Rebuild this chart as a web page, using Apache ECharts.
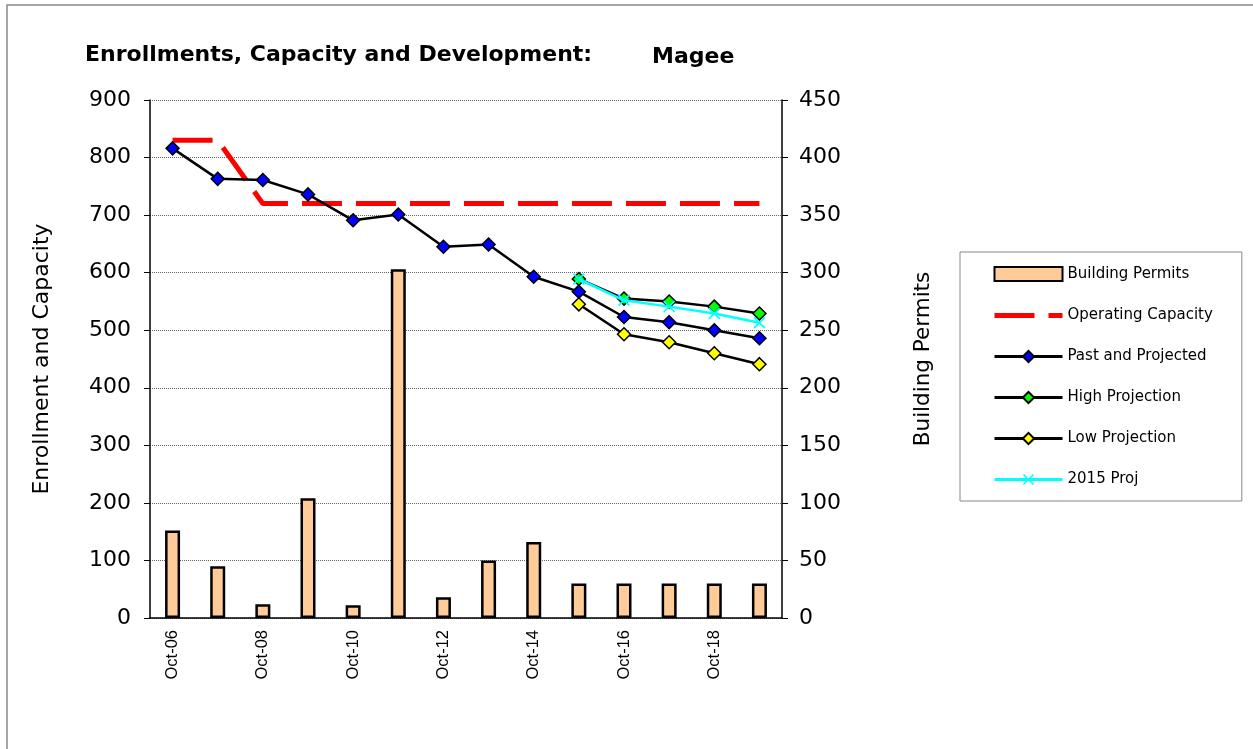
<!DOCTYPE html>
<html>
<head>
<meta charset="utf-8">
<script src="https://cdn.jsdelivr.net/npm/echarts@6/dist/echarts.min.js"></script>
<style>
  html, body { margin: 0; padding: 0; background: #fff; }
  #chart { width: 1253px; height: 749px; }
</style>
</head>
<body>
<div id="chart"></div>
<script>
const categories = ['Oct-06', 'Oct-07', 'Oct-08', 'Oct-09', 'Oct-10', 'Oct-11', 'Oct-12',
  'Oct-13', 'Oct-14', 'Oct-15', 'Oct-16', 'Oct-17', 'Oct-18', 'Oct-19']
const buildingPermits = [76, 45, 12, 104, 11, 303, 18, 50, 66, 30, 30, 30, 30, 30]
const operatingCapacity = [830, 830, 720, 720, 720, 720, 720, 720, 720, 720, 720, 720, 720, 720]
const pastProjected = [816, 763, 761, 736, 691, 701, 645, 649, 593, 567, 523, 514, 500, 486]
const highProjection = ['-', '-', '-', '-', '-', '-', '-', '-', '-', 589, 555, 550, 541, 529]
const lowProjection = ['-', '-', '-', '-', '-', '-', '-', '-', '-', 545, 493, 479, 460, 441]
const proj2015 = ['-', '-', '-', '-', '-', '-', '-', '-', '-', 589, 552, 541, 529, 513]

const font = '"DejaVu Sans", sans-serif'
const arial = 'Arial, "Liberation Sans", sans-serif'
const xMark = 'path://M0,1 L1,0 L5,4 L9,0 L10,1 L6,5 L10,9 L9,10 L5,6 L1,10 L0,9 L4,5 Z'

const chart = echarts.init(document.getElementById('chart'))

function projLine(name, data, color) {
  return {
    name,
    type: 'line',
    data,
    symbol: 'diamond',
    symbolSize: 13,
    lineStyle: { color: '#000', width: 2.5 },
    itemStyle: { color, borderColor: '#000', borderWidth: 1.5 },
    z: 5
  }
}

chart.setOption({
  animation: false,
  textStyle: { fontFamily: font },
  title: [{
    text: 'Enrollments, Capacity and Development:',
    left: 80,
    top: 39,
    textStyle: { fontSize: 22, fontWeight: 'bold', color: '#000', fontFamily: font }
  }, {
    text: 'Magee',
    left: 647,
    top: 41,
    textStyle: { fontSize: 22, fontWeight: 'bold', color: '#000', fontFamily: font }
  }],
  graphic: [{
    type: 'rect',
    shape: { x: 7, y: 5, width: 1260, height: 800 },
    style: { fill: 'none', stroke: '#888', lineWidth: 1.5 },
    silent: true
  }],
  legend: {
    orient: 'vertical',
    left: 960,
    top: 252,
    padding: [14, 29, 14, 32],
    itemGap: 26,
    itemWidth: 68,
    itemHeight: 14,
    borderColor: '#888',
    borderWidth: 1,
    textStyle: { fontSize: 15, color: '#000', fontFamily: font },
    data: [
      { name: 'Building Permits', icon: 'rect' },
      { name: 'Operating Capacity', itemStyle: { opacity: 0 }, lineStyle: { width: 5, type: [40, 14] } },
      { name: 'Past and Projected', lineStyle: { width: 3 } },
      { name: 'High Projection', lineStyle: { width: 3 } },
      { name: 'Low Projection', lineStyle: { width: 3 } },
      { name: '2015 Proj', lineStyle: { width: 3 } }
    ]
  },
  grid: { left: 150, right: 471, top: 100, bottom: 131 },
  xAxis: {
    type: 'category',
    data: categories,
    axisLine: { lineStyle: { color: '#000', width: 1.5 } },
    axisTick: { lineStyle: { color: '#000' }, length: 7 },
    axisLabel: { rotate: 90, interval: 1, fontSize: 16.5, color: '#000', margin: 12, fontFamily: arial }
  },
  yAxis: [{
    type: 'value',
    min: 0,
    max: 900,
    interval: 100,
    name: 'Enrollment and Capacity',
    nameLocation: 'middle',
    nameGap: 97,
    nameTextStyle: { fontSize: 22, color: '#000' },
    axisLine: { show: true, lineStyle: { color: '#000', width: 1.5 } },
    axisTick: { show: true, lineStyle: { color: '#000' }, length: 6 },
    axisLabel: { fontSize: 22, color: '#000', margin: 19 },
    splitLine: { lineStyle: { color: '#666', type: 'dotted', width: 1 } }
  }, {
    type: 'value',
    min: 0,
    max: 450,
    interval: 50,
    position: 'right',
    name: 'Building Permits',
    nameLocation: 'middle',
    nameGap: 130,
    nameTextStyle: { fontSize: 21.5, color: '#000' },
    axisLine: { show: true, lineStyle: { color: '#000', width: 1.5 } },
    axisTick: { show: true, lineStyle: { color: '#000' }, length: 6 },
    axisLabel: { fontSize: 22, color: '#000', margin: 17 },
    splitLine: { show: false }
  }],
  series: [{
    name: 'Building Permits',
    type: 'bar',
    yAxisIndex: 1,
    data: buildingPermits,
    barWidth: 15,
    itemStyle: { color: '#ffcc99', borderColor: '#000', borderWidth: 2.5 },
    z: 1
  }, {
    name: 'Operating Capacity',
    type: 'line',
    data: operatingCapacity,
    symbol: 'none',
    lineStyle: { color: '#ff0000', width: 5, type: [40, 14] },
    itemStyle: { color: '#ff0000' },
    z: 3
  },
  projLine('Past and Projected', pastProjected, '#0000ff'),
  projLine('High Projection', highProjection, '#00ff00'),
  projLine('Low Projection', lowProjection, '#ffff00'),
  {
    name: '2015 Proj',
    type: 'line',
    data: proj2015,
    symbol: xMark,
    symbolSize: 12,
    lineStyle: { color: '#00ffff', width: 2.5 },
    itemStyle: { color: '#00ffff' },
    z: 6
  }]
})
</script>
</body>
</html>
